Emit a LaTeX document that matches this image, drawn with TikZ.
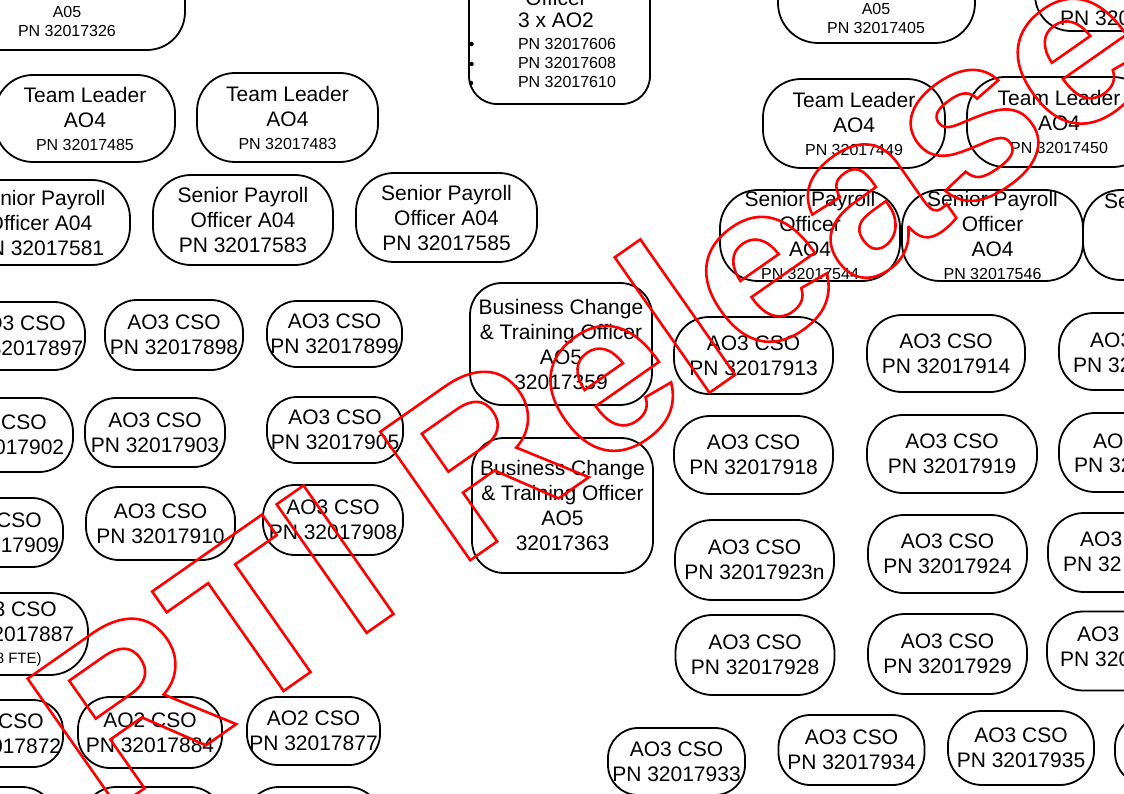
\documentclass[tikz,border=0pt]{standalone}
\usepackage{fontspec}
\setmainfont{Liberation Sans}
\newcommand\pnsmall{\fontsize{16}{19}\selectfont}
\newcommand\ftesmall{\fontsize{15}{18}\selectfont}
\begin{document}
\begin{tikzpicture}[x=1pt,y=-1pt,
  org/.style={draw, line width=1.8pt, rounded corners=#1, align=center, inner sep=0pt,
              font=\fontsize{21}{25}\selectfont},
  org/.default=32pt,
  frag/.style={inner sep=0pt, anchor=west, font=\fontsize{21}{25}\selectfont},
  smalltext/.style={inner sep=0pt, align=center, font=\pnsmall},
  listdot/.style={circle, fill, inner sep=0pt, minimum size=4.5pt},
  stamp/.style={inner sep=0pt, anchor=base west, rotate=35, text=red,
                font=\fontsize{228}{228}\selectfont\bfseries}]
\useasboundingbox (0,0) rectangle (1124,794);
\fill[white] (0,0) rectangle (1124,794);
\clip (0,0) rectangle (1124,794);

% ---- top row (boxes continue above the sheet) ----
\node[org=38pt, minimum width=236pt, minimum height=110pt] (b1) at (67,-5) {};
\node[smalltext] (t1) at (67,21.5) {A05\\PN 32017326};

\node[org=28pt, minimum width=181pt, minimum height=184pt] (b2) at (559.5,12) {};
\node[inner sep=0pt, align=center, font=\fontsize{21}{22}\selectfont] (t2a) at (556,9) {Officer\\3 x AO2};
\node[smalltext] (t2b) at (567,63) {PN 32017606\\PN 32017608\\PN 32017610};
\node[listdot] (d1) at (471.5,44) {};
\node[listdot] (d2) at (471.5,64) {};
\node[listdot] (d3) at (471,83) {};

\node[org=40pt, minimum width=197pt, minimum height=113pt] (b3) at (876.5,-13.5) {};
\node[smalltext] (t3) at (876,18.5) {A05\\PN 32017405};

\node[org=36pt, minimum width=165pt, minimum height=92pt] (b4) at (1117.5,-15) {};
\node[frag] (t4) at (1060,18) {PN 320};

% ---- team leaders ----
\node[org=38pt, minimum width=180pt, minimum height=87pt] (b5) at (85,118.5)
  {Team Leader\\AO4\\[-2pt]{\pnsmall PN 32017485}};
\node[org=38pt, minimum width=181pt, minimum height=89pt] (b6) at (287.5,117.5)
  {Team Leader\\AO4\\[-2pt]{\pnsmall PN 32017483}};
\node[org=38pt, minimum width=182pt, minimum height=89pt] (b7) at (854,123.5)
  {Team Leader\\AO4\\[-2pt]{\pnsmall PN 32017449}};
\node[org=38pt, minimum width=184pt, minimum height=90pt] (b8) at (1059,122)
  {Team Leader\\AO4\\[-2pt]{\pnsmall PN 32017450}};

% ---- senior payroll officers ----
\node[org=38pt, minimum width=180pt, minimum height=85pt] (b9) at (40,222.5)
  {Senior Payroll\\Officer A04\\PN 32017581};
\node[org=38pt, minimum width=180pt, minimum height=90pt] (b10) at (243,220)
  {Senior Payroll\\Officer A04\\PN 32017583};
\node[org=38pt, minimum width=181pt, minimum height=89pt] (b11) at (446.5,217.5)
  {Senior Payroll\\Officer A04\\PN 32017585};
\node[org=38pt, minimum width=180pt, minimum height=91pt] (b12) at (810,235.5)
  {Senior Payroll\\Officer\\AO4\\[-2pt]{\pnsmall PN 32017544}};
\node[org=38pt, minimum width=181pt, minimum height=91pt] (b13) at (992.5,235.5)
  {Senior Payroll\\Officer\\AO4\\[-2pt]{\pnsmall PN 32017546}};
\node[org=38pt, minimum width=180pt, minimum height=90pt] (b14) at (1173,235) {};
\node[frag] (t14) at (1104,201) {Se};

% ---- customer service officers, row 1 ----
\node[org=31pt, minimum width=132pt, minimum height=68pt] (b15) at (19,336) {AO3 CSO\\PN 32017897};
\node[org=32pt, minimum width=138pt, minimum height=70pt] (b16) at (174,335) {AO3 CSO\\PN 32017898};
\node[org=30pt, minimum width=135pt, minimum height=66pt] (b17) at (334.5,334) {AO3 CSO\\PN 32017899};
\node[org=32pt, minimum width=182pt, minimum height=122pt] (bc1) at (561,344)
  {Business Change\\\& Training Officer\\AO5\\32017359};
\node[org=35pt, minimum width=159pt, minimum height=77pt] (b18) at (753.5,355.5) {AO3 CSO\\PN 32017913};
\node[org=35pt, minimum width=158pt, minimum height=77pt] (b19) at (946,353.5) {AO3 CSO\\PN 32017914};
\node[org=35pt, minimum width=161pt, minimum height=77pt] (b20) at (1139.5,351.5) {};
\node[frag] (t20a) at (1090,340) {AO3};
\node[frag] (t20b) at (1073,365) {PN 32};

% ---- row 2 ----
\node[org=34pt, minimum width=146pt, minimum height=74pt] (b21) at (0,435) {AO3 CSO\\PN 32017902};
\node[org=31pt, minimum width=140pt, minimum height=69pt] (b22) at (155,432.5) {AO3 CSO\\PN 32017903};
\node[org=30pt, minimum width=136pt, minimum height=66pt] (b23) at (335,430) {AO3 CSO\\PN 32017905};
\node[org=32pt, minimum width=181pt, minimum height=135pt] (bc2) at (562.5,505.5)
  {Business Change\\\& Training Officer\\AO5\\32017363};
\node[org=36pt, minimum width=159pt, minimum height=78pt] (b24) at (753.5,455) {AO3 CSO\\PN 32017918};
\node[org=36pt, minimum width=170pt, minimum height=78pt] (b25) at (952,454) {AO3 CSO\\PN 32017919};
\node[org=36pt, minimum width=162pt, minimum height=79pt] (b26) at (1140,452.5) {};
\node[frag] (t26a) at (1093,441) {AO3};
\node[frag] (t26b) at (1074,465) {PN 32};

% ---- row 3 ----
\node[org=31pt, minimum width=136pt, minimum height=69pt] (b27) at (-5,532.5) {AO3 CSO\\PN 32017909};
\node[org=33pt, minimum width=149pt, minimum height=73pt] (b28) at (160.5,523.5) {AO3 CSO\\PN 32017910};
\node[org=32pt, minimum width=140pt, minimum height=70pt] (b29) at (333,520) {AO3 CSO\\PN 32017908};
\node[org=37pt, minimum width=159pt, minimum height=80pt] (b30) at (754.5,560) {AO3 CSO\\PN 32017923n};
\node[org=36pt, minimum width=159pt, minimum height=78pt] (b31) at (947.5,554) {AO3 CSO\\PN 32017924};
\node[org=36pt, minimum width=162pt, minimum height=79pt] (b32) at (1129,552.5) {};
\node[frag] (t32a) at (1080,539) {AO3};
\node[frag] (t32b) at (1063,564) {PN 32};

% ---- row 4 ----
\node[org=38pt, minimum width=156pt, minimum height=82pt] (b33) at (10,634)
  {AO3 CSO\\PN 32017887\\[-3pt]{\ftesmall (0.8 FTE)}};
\node[org=37pt, minimum width=159pt, minimum height=80pt] (b37) at (755,655) {AO3 CSO\\PN 32017928};
\node[org=37pt, minimum width=159pt, minimum height=80pt] (b38) at (947.5,654) {AO3 CSO\\PN 32017929};
\node[org=36pt, minimum width=162pt, minimum height=79pt] (b39) at (1128,651) {};
\node[frag] (t39a) at (1077,634) {AO3};
\node[frag] (t39b) at (1060,659) {PN 320};

% ---- row 5 ----
\node[org=30pt, minimum width=132pt, minimum height=67pt] (b36) at (-3,733.5) {AO2 CSO\\PN 32017872};
\node[org=32pt, minimum width=144pt, minimum height=71pt] (b34) at (150,732.5) {AO2 CSO\\PN 32017884};
\node[org=31pt, minimum width=133pt, minimum height=68pt] (b35) at (313.5,731) {AO2 CSO\\PN 32017877};
\node[org=30pt, minimum width=137pt, minimum height=67pt] (b40) at (676.5,761.5) {AO3 CSO\\PN 32017933};
\node[org=32pt, minimum width=146pt, minimum height=70pt] (b41) at (851.5,750) {AO3 CSO\\PN 32017934};
\node[org=34pt, minimum width=146pt, minimum height=74pt] (b42) at (1021,748) {AO3 CSO\\PN 32017935};
\node[org=32pt, minimum width=145pt, minimum height=70pt] (b43) at (1187.5,750) {};

% ---- next row, only the tops show ----
\node[org=33pt, minimum width=146pt, minimum height=72pt] (b44) at (-18,823) {};
\node[org=33pt, minimum width=140pt, minimum height=72pt] (b45) at (153,823) {};
\node[org=33pt, minimum width=135pt, minimum height=72pt] (b46) at (313.5,823) {};

% ---- outlined release stamp across the sheet ----
\node[stamp] (stamp) at (105,816)
  {\special{pdf:literal direct 1 Tr 2.6 w}RTI Release\special{pdf:literal direct 0 Tr}};
\end{tikzpicture}
\end{document}
